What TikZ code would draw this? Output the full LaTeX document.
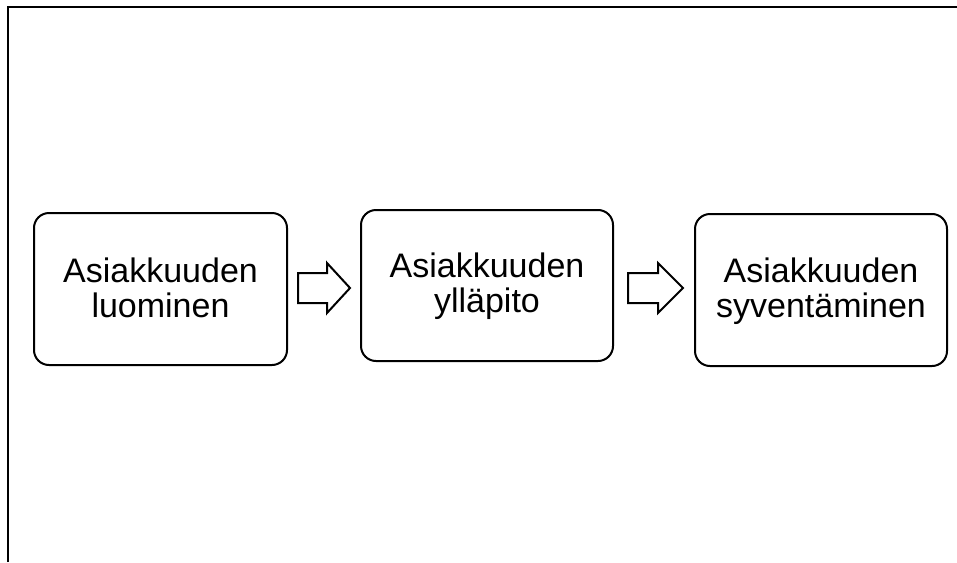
\documentclass[tikz,border=0pt]{standalone}
\usepackage{fontspec}
\setmainfont{Liberation Sans}
\begin{document}
\begin{tikzpicture}[x=1pt,y=-1pt,
  stagebox/.style={draw=black,line width=2pt,rounded corners=15pt,fill=white},
  stagetext/.style={align=center,font=\fontsize{34}{35}\selectfont,inner sep=0pt},
  blockarrow/.style={draw=black,line width=2pt,fill=white,line join=miter}]
\useasboundingbox (0,0) rectangle (957,562);
\draw[line width=2.2pt] (8,562) -- (8,7) -- (957,7);
% boxes
\draw[stagebox] (34,213) rectangle (287,365);
\draw[stagebox] (361,210) rectangle (613,361);
\draw[stagebox] (695,214) rectangle (947,366);
\node[stagetext] (b1) at (160.5,288) {Asiakkuuden\\luominen};
\node[stagetext] (b2) at (487,286.5) {Asiakkuuden\\ylläpito};
\node[stagetext] (b3) at (821,291.5) {Asiakkuuden\\syventäminen};
% block arrows
\draw[blockarrow] (298,273) -- (327,273) -- (327,263) -- (350,288) -- (327,313) -- (327,303) -- (298,303) -- cycle;
\draw[blockarrow] (628,273) -- (658,273) -- (658,263) -- (683,288) -- (658,313) -- (658,303) -- (628,303) -- cycle;
\end{tikzpicture}
\end{document}
